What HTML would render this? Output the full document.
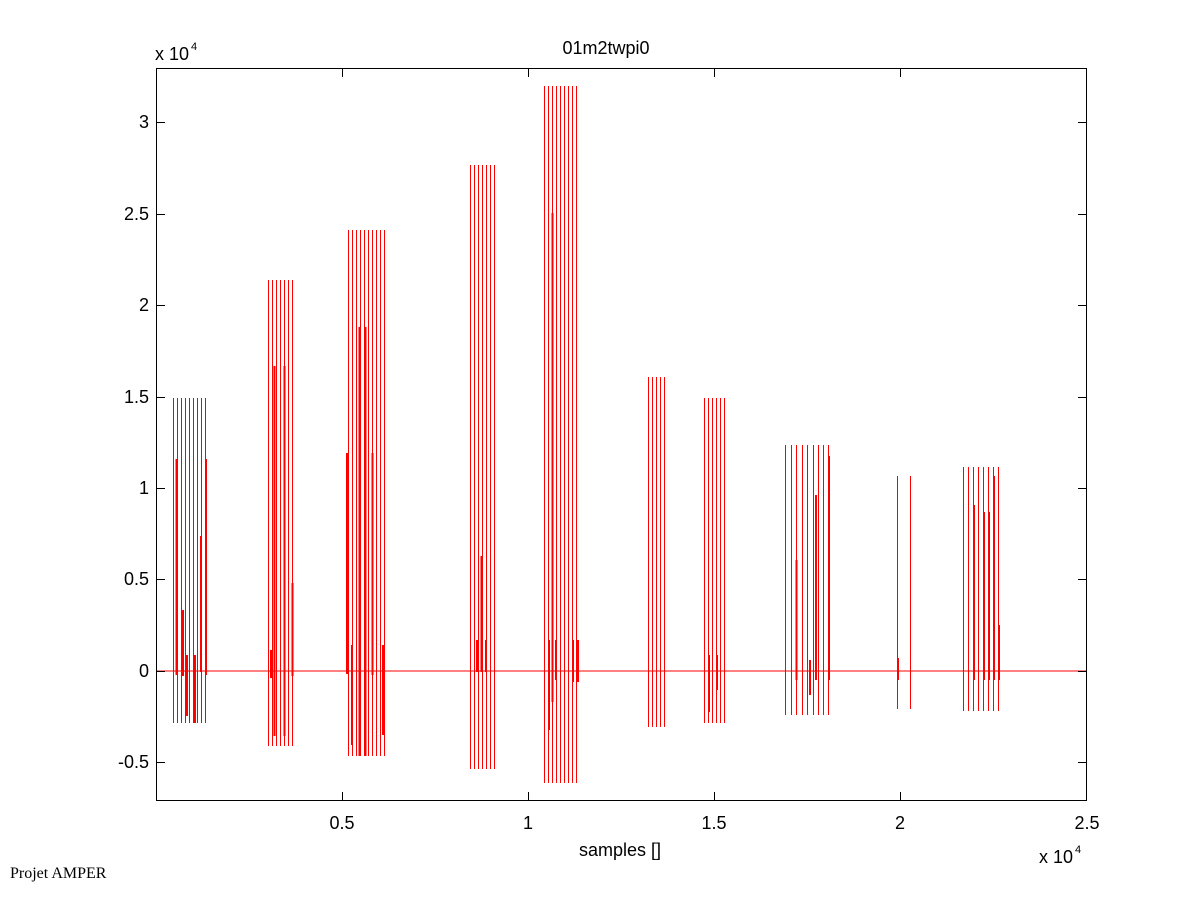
<!DOCTYPE html>
<html><head><style>
html,body{margin:0;padding:0;background:#fff;}
svg{display:block;font-family:"Liberation Sans",Arial,sans-serif;}
</style></head><body>
<svg width="1201" height="901" viewBox="0 0 1201 901" xmlns="http://www.w3.org/2000/svg">
<rect width="1201" height="901" fill="#fff"/>
<g stroke="#ff0000" stroke-width="1" fill="none" shape-rendering="crispEdges">
<line x1="156" y1="671" x2="1087" y2="671"/>
<path d="M173.5 398V723M177.5 398V723M181.5 398V723M185.5 398V723M189.5 398V723M193.5 398V723M197.5 398V723M201.5 398V723M205.5 398V723"/>
<path stroke-width="2" d="M176.5 459V675M183 610V676M206 459V675M201 536V672M187 655V716M195 655V723"/>
<path d="M268.5 280V746M272.5 280V746M276.5 280V746M280.5 280V746M284.5 280V746M288.5 280V746M292.5 280V746"/>
<path stroke-width="2" d="M274.5 366V736M284.5 366V736M292.5 583V676M271 650V678"/>
<path d="M348.5 230V756M352.5 230V756M356.5 230V756M360.5 230V756M364.5 230V756M368.5 230V756M372.5 230V756M376.5 230V756M380.5 230V756M384.5 230V756"/>
<path stroke-width="2" d="M347 453V674M359.5 327V756M365.5 327V756M372.5 453V675M352 645V745M383 645V735"/>
<path d="M470.5 165V769M474.5 165V769M478.5 165V769M482.5 165V769M486.5 165V769M490.5 165V769M494.5 165V769"/>
<path stroke-width="2" d="M481.5 556V672M477 640V672M486 640V672"/>
<path d="M544.5 86V783M548.5 86V783M552.5 86V783M556.5 86V783M560.5 86V783M564.5 86V783M568.5 86V783M572.5 86V783M576.5 86V783"/>
<path stroke-width="2" d="M552.5 213V702M549 640V730M556 640V680M573 640V682M578 640V682"/>
<path d="M648.5 377V727M652.5 377V727M656.5 377V727M660.5 377V727M664.5 377V727"/>
<path d="M704.5 398V723M708.5 398V723M712.5 398V723M716.5 398V723M720.5 398V723M724.5 398V723"/>
<path stroke-width="2" d="M709 655V712M717 655V690"/>
<path d="M785.5 445V715M791.5 445V715M796.5 445V715M802.5 445V715M807.5 445V715M813.5 445V715M818.5 445V715M823.5 445V715M828.5 445V715"/>
<path stroke-width="2" d="M796.5 560V680M816 495V680M829 456V680M810 660V695"/>
<path d="M897.5 476V709M910.5 476V709"/>
<path stroke-width="2" d="M898 658V680"/>
<path d="M963.5 467V711M968.5 467V711M973.5 467V711M978.5 467V711M983.5 467V711M988.5 467V711M993.5 467V711M998.5 467V711"/>
<path stroke-width="2" d="M974 505V680M984 512V680M989 512V680M994 476V680M999 625V680"/>
</g>
<g shape-rendering="crispEdges">
<rect x="156.5" y="68.5" width="930" height="732" fill="none" stroke="#000" stroke-width="1"/>
<g stroke="#000" stroke-width="1">
<path d="M342.5 801V792M528.5 801V792M714.5 801V792M900.5 801V792M1086.5 801V792M342.5 68V77M528.5 68V77M714.5 68V77M900.5 68V77"/>
<path d="M156 762.5H165M156 671.5H165M156 579.5H165M156 488.5H165M156 397.5H165M156 305.5H165M156 214.5H165M156 122.5H165"/>
<path d="M1087 762.5H1078M1087 671.5H1078M1087 579.5H1078M1087 488.5H1078M1087 397.5H1078M1087 305.5H1078M1087 214.5H1078M1087 122.5H1078"/>
</g>
</g>
<g font-size="18" fill="#000">
<g text-anchor="end">
<text x="149" y="768">-0.5</text>
<text x="149" y="677">0</text>
<text x="149" y="585">0.5</text>
<text x="149" y="494">1</text>
<text x="149" y="403">1.5</text>
<text x="149" y="311">2</text>
<text x="149" y="220">2.5</text>
<text x="149" y="128">3</text>
</g>
<g text-anchor="middle">
<text x="342" y="829">0.5</text>
<text x="528" y="829">1</text>
<text x="714" y="829">1.5</text>
<text x="900" y="829">2</text>
<text x="1087" y="829">2.5</text>
<text x="620" y="856">samples []</text>
<text x="606" y="54">01m2twpi0</text>
</g>
<text x="155" y="60">x 10</text><text x="191" y="50" font-size="11">4</text>
<text x="1039" y="863">x 10</text><text x="1075" y="853" font-size="11">4</text>
</g>
<text x="10" y="878" font-family="Liberation Serif,serif" font-size="16">Projet AMPER</text>
</svg>
</body></html>
